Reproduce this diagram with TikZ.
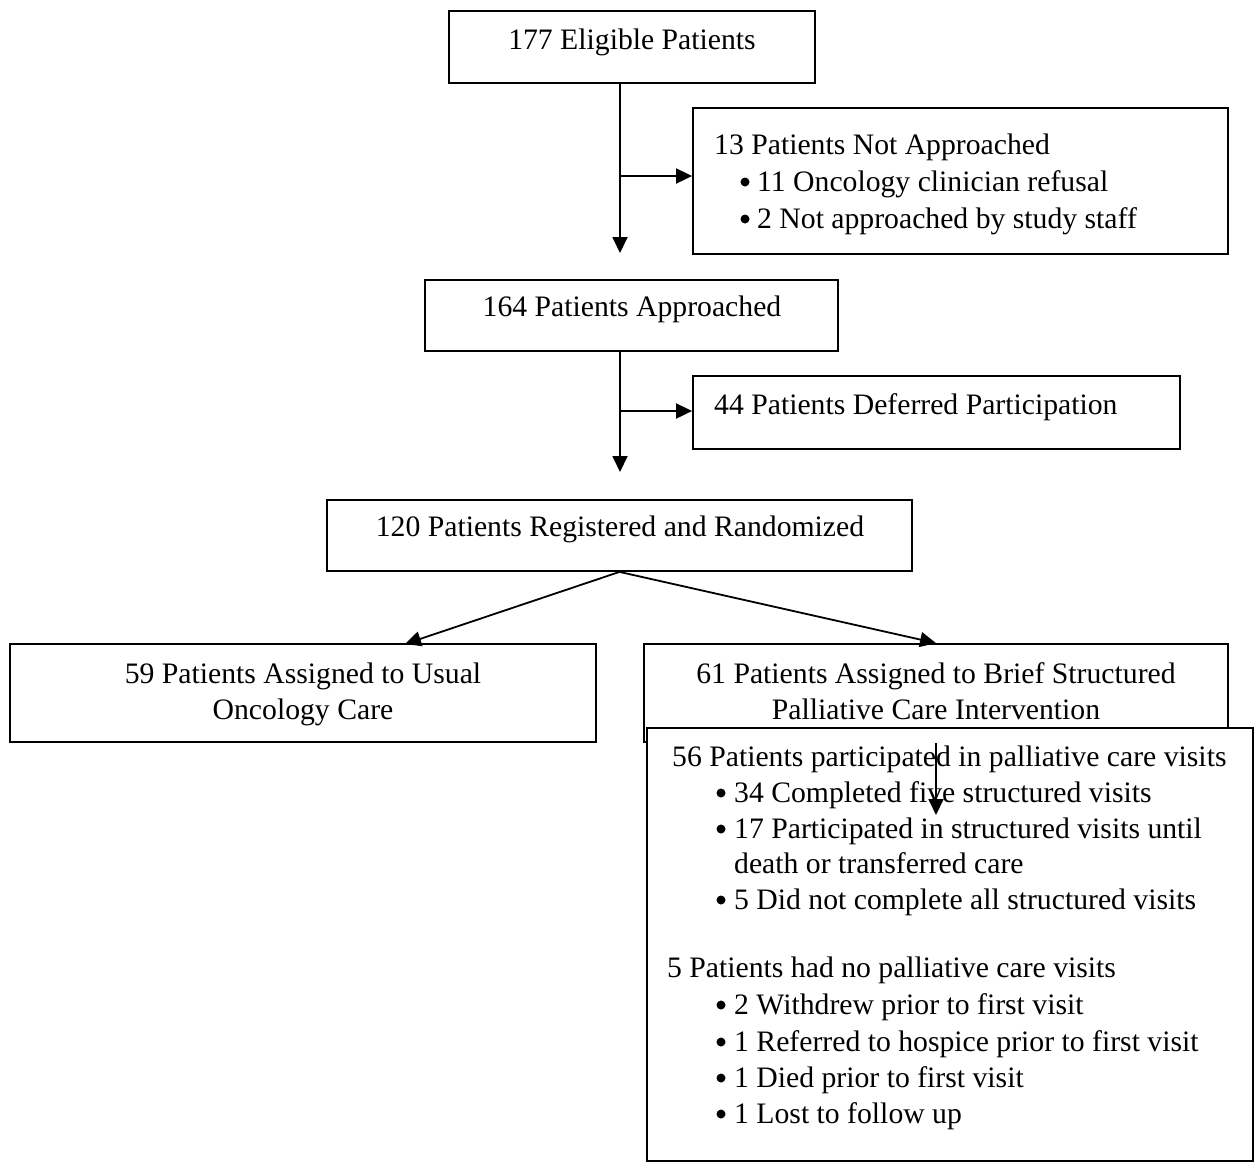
\documentclass[tikz,border=0pt]{standalone}
\usepackage{fontspec}
\setmainfont{Liberation Serif}
\usetikzlibrary{arrows.meta}
\begin{document}
\begin{tikzpicture}[x=1pt,y=-1pt,
  box/.style={draw, line width=1.8pt, inner sep=0pt, fill=white},
  txt/.style={inner sep=0pt, font=\fontsize{29.7}{36.5}\selectfont},
  dot/.style={circle, fill=black, inner sep=0pt, minimum size=9pt},
  arr/.style={line width=1.8pt, -{Triangle[length=16pt,width=15pt]}}]
\useasboundingbox[fill=white] (0,0) rectangle (1257,1163);

% boxes
\node[box, minimum width=366pt, minimum height=72pt] (Eligible) at (632,47) {};
\node[box, minimum width=535pt, minimum height=146pt] (NotAppr) at (960.5,181) {};
\node[box, minimum width=413pt, minimum height=71pt] (Appr) at (631.5,315.5) {};
\node[box, minimum width=487pt, minimum height=73pt] (Deferred) at (936.5,412.5) {};
\node[box, minimum width=585pt, minimum height=71pt] (Registered) at (619.5,535.5) {};
\node[box, minimum width=586pt, minimum height=98pt] (Usual) at (303,693) {};
\node[box, minimum width=584pt, minimum height=98pt] (Brief) at (936,693) {};
\node[box, minimum width=606pt, minimum height=433pt] (Bottom) at (950,944.5) {};

% coordinates
\coordinate (j1) at (620,176);
\coordinate (t1) at (620,253);
\coordinate (j2) at (620,411);
\coordinate (t2) at (620,472);
\coordinate (u1) at (405,644);
\coordinate (a1) at (936,815);

% connectors
\draw[arr] (Eligible.south -| t1) -- (t1);
\draw[arr] (j1) -- (NotAppr.west |- j1);
\draw[arr] (Appr.south -| t2) -- (t2);
\draw[arr] (j2) -- (Deferred.west |- j2);
\draw[arr] (Registered.south) -- (u1);
\draw[arr] (Registered.south) -- (Brief.north);
\draw[arr] (Brief.south) -- (a1);

% texts
\node[txt, anchor=base] (tEl) at (632,49) {177 Eligible Patients};

\node[txt, anchor=base west] (tNA) at (714,154) {13 Patients Not Approached};
\node[dot] (bNA1) at (745,182) {};
\node[txt, anchor=base west] (tNA1) at (757,191) {11 Oncology clinician refusal};
\node[dot] (bNA2) at (745,219) {};
\node[txt, anchor=base west] (tNA2) at (757,228) {2 Not approached by study staff};

\node[txt, anchor=base] (tAp) at (632,316) {164 Patients Approached};
\node[txt, anchor=base west] (tDe) at (714,414) {44 Patients Deferred Participation};
\node[txt, anchor=base] (tRe) at (620,536) {120 Patients Registered and Randomized};

\node[txt, anchor=base] (tUs1) at (303,683) {59 Patients Assigned to Usual};
\node[txt, anchor=base] (tUs2) at (303,719) {Oncology Care};
\node[txt, anchor=base] (tBr1) at (936,683) {61 Patients Assigned to Brief Structured};
\node[txt, anchor=base] (tBr2) at (936,719) {Palliative Care Intervention};

\node[txt, anchor=base west] (tB1) at (672,766) {56 Patients participated in palliative care visits};
\node[dot] (bB1) at (721,793) {};
\node[txt, anchor=base west] (tB2) at (734,802) {34 Completed five structured visits};
\node[dot] (bB2) at (721,829) {};
\node[txt, anchor=base west] (tB3) at (734,838) {17 Participated in structured visits until};
\node[txt, anchor=base west] (tB4) at (734,873) {death or transferred care};
\node[dot] (bB3) at (721,900) {};
\node[txt, anchor=base west] (tB5) at (734,909) {5 Did not complete all structured visits};

\node[txt, anchor=base west] (tB6) at (667,977) {5 Patients had no palliative care visits};
\node[dot] (bB4) at (721,1005) {};
\node[txt, anchor=base west] (tB7) at (734,1014) {2 Withdrew prior to first visit};
\node[dot] (bB5) at (721,1042) {};
\node[txt, anchor=base west] (tB8) at (734,1051) {1 Referred to hospice prior to first visit};
\node[dot] (bB6) at (721,1078) {};
\node[txt, anchor=base west] (tB9) at (734,1087) {1 Died prior to first visit};
\node[dot] (bB7) at (721,1114) {};
\node[txt, anchor=base west] (tB10) at (734,1123) {1 Lost to follow up};
\end{tikzpicture}
\end{document}
